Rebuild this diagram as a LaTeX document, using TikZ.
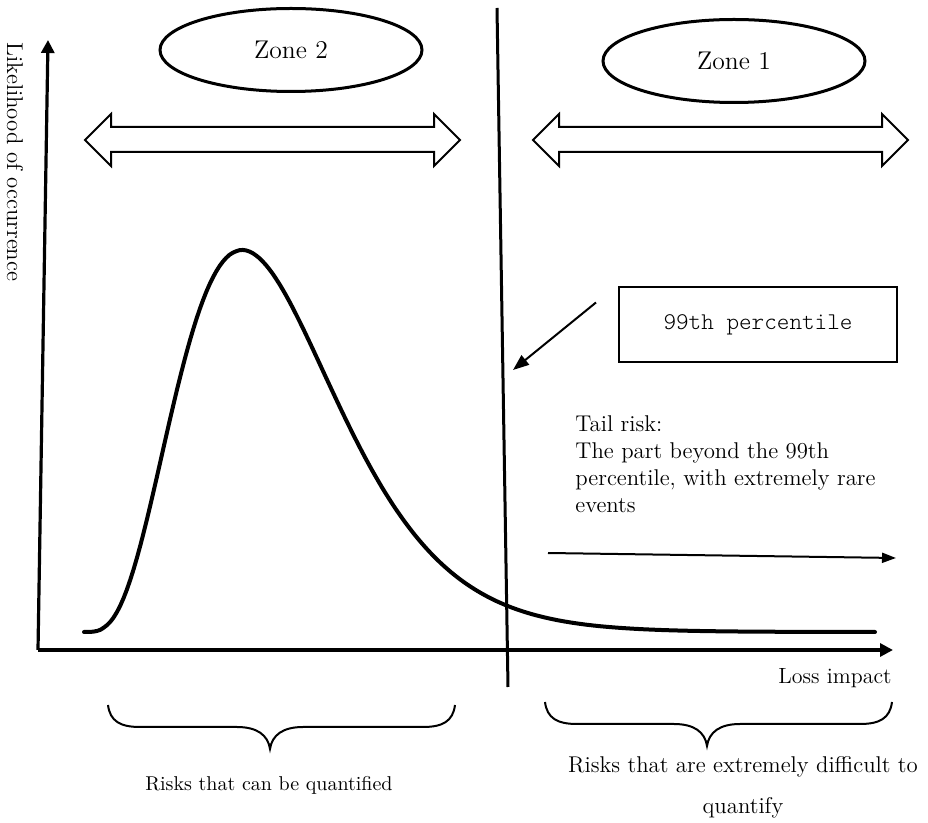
\documentclass[tikz,border=0pt]{standalone}
\usetikzlibrary{arrows.meta,positioning,shapes.geometric}

\tikzset{
  zone/.style={draw,ellipse,line width=1.5pt,minimum width=131pt,minimum height=41.5pt,inner sep=0pt,font=\fontsize{12.8}{15}\selectfont},
  axis/.style={line width=1.6pt,-{Triangle[length=6.5pt,width=6.5pt]}},
  wide/.style={draw,line width=1pt,line join=miter},
  brc/.style={line width=1pt},
  lbl/.style={font=\fontsize{11.4}{13.5}\selectfont},
}

\begin{document}
\begin{tikzpicture}[x=0.5pt,y=-0.5pt]
\useasboundingbox (0,0) rectangle (928,823);
% axes
\coordinate (o) at (38,650);
\coordinate (ytop) at (48,40);
\coordinate (xend) at (893,650);
\draw[axis] (o) -- (ytop);
\draw[axis] (o) -- (xend);
\node[lbl,rotate=-90] (ylab) at (15,162) {Likelihood of occurrence};
\node[font=\fontsize{11}{13}\selectfont] (loss) at (835,678) {Loss impact};
% 99th percentile line
\coordinate (qtop) at (497,8);
\coordinate (qbot) at (508,687);
\draw[line width=1.5pt] (qtop) -- (qbot);
% zones
\node[zone] (z2) at (291,50) {\raisebox{-2pt}{Zone 2}};
\node[zone] (z1) at (734,61) {\raisebox{-2pt}{Zone 1}};
\foreach \xa/\xb in {85/460,533/908}{
  \draw[wide] (\xa,140) -- (\xa+26,114) -- (\xa+26,127) -- (\xb-26,127) -- (\xb-26,114) -- (\xb,140)
    -- (\xb-26,166) -- (\xb-26,152) -- (\xa+26,152) -- (\xa+26,166) -- cycle;
}
% loss distribution
\draw[line width=2pt,line cap=round,line join=round] plot[domain=84:875,samples=240]
  (\x,{632-382*exp(3.9*(ln((\x-83)/159)+1-(\x-83)/159))});
% percentile box
\node[draw,line width=1pt,minimum width=139pt,minimum height=37.5pt,font=\ttfamily\fontseries{l}\fontsize{12}{14}\selectfont] (pct) at (758,324.5) {99th percentile};
\coordinate[above left=11pt and 11pt of pct.west] (pfrom);
\coordinate (pto) at (513,370);
\draw[line width=1pt,-{Triangle[length=8pt,width=6pt]}] (pfrom) -- (pto);
% tail risk
\node[lbl,anchor=north west,align=left,inner sep=0pt] (tail) at (575,415) {Tail risk:\\The part beyond the 99th\\percentile, with extremely rare\\events};
\coordinate (tfrom) at (548,553);
\coordinate (tto) at (896,558);
\draw[line width=1pt,-{Triangle[length=7pt,width=5pt]}] (tfrom) -- (tto);
% braces
\foreach \xa/\xm/\xb/\yt in {108/270/455/705,545/707/892/702}{
  \draw[brc] (\xa,\yt) .. controls (\xa+2,\yt+16) and (\xa+12,\yt+22) .. (\xa+32,\yt+22) -- (\xm-33,\yt+22)
    .. controls (\xm-13,\yt+22) and (\xm-2,\yt+30) .. (\xm,\yt+44)
    .. controls (\xm+2,\yt+30) and (\xm+13,\yt+22) .. (\xm+33,\yt+22) -- (\xb-32,\yt+22)
    .. controls (\xb-12,\yt+22) and (\xb-2,\yt+16) .. (\xb,\yt);
}
\node[font=\fontsize{10}{12}\selectfont] (qnt) at (269,785) {Risks that can be quantified};
\node[lbl,align=center] (hard) at (743,787.5) {Risks that are extremely difficult to\\[7pt]quantify};
\end{tikzpicture}
\end{document}
